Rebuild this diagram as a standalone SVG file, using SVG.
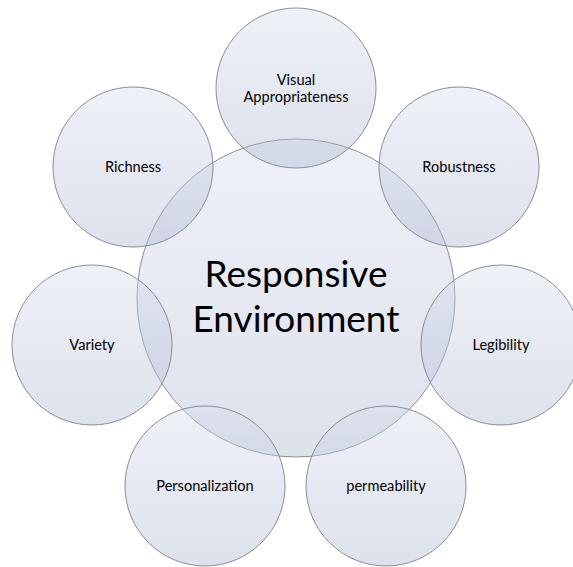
<svg xmlns="http://www.w3.org/2000/svg" width="573" height="567" viewBox="0 0 573 567">
  <defs>
    <linearGradient id="bubbleFill" x1="0" y1="0" x2="0" y2="1">
      <stop offset="0" stop-color="#d6dcec"/>
      <stop offset="1" stop-color="#aab5d0"/>
    </linearGradient>
    <style>
      .bubble { fill: url(#bubbleFill); fill-opacity: 0.4; stroke: #8a8d94; stroke-width: 1; }
      .label { font-family: "Lato", "Noto Sans", "Liberation Sans", sans-serif; font-size: 14.6px; fill: #000; text-anchor: middle; }
      .title { font-family: "Lato", "Noto Sans", "Liberation Sans", sans-serif; font-size: 37px; fill: #000; text-anchor: middle; }
    </style>
  </defs>
  <rect width="573" height="567" fill="#ffffff"/>

  <!-- central hub -->
  <g id="hub">
    <circle class="bubble" cx="296" cy="298" r="159"/>
    <text class="title" x="296" y="287">Responsive</text>
    <text class="title" x="296" y="332">Environment</text>
  </g>

  <!-- surrounding qualities, spaced 360/7 degrees apart -->
  <g id="visual-appropriateness">
    <circle class="bubble" cx="296" cy="88" r="80"/>
    <text class="label" x="296" y="85">Visual</text>
    <text class="label" x="296" y="102">Appropriateness</text>
  </g>
  <g id="robustness">
    <circle class="bubble" cx="459" cy="167" r="80"/>
    <text class="label" x="459" y="172">Robustness</text>
  </g>
  <g id="legibility">
    <circle class="bubble" cx="501" cy="345" r="80"/>
    <text class="label" x="501" y="350">Legibility</text>
  </g>
  <g id="permeability">
    <circle class="bubble" cx="386" cy="486" r="80"/>
    <text class="label" x="386" y="491">permeability</text>
  </g>
  <g id="personalization">
    <circle class="bubble" cx="205" cy="486" r="80"/>
    <text class="label" x="205" y="491">Personalization</text>
  </g>
  <g id="variety">
    <circle class="bubble" cx="92" cy="345" r="80"/>
    <text class="label" x="92" y="350">Variety</text>
  </g>
  <g id="richness">
    <circle class="bubble" cx="133" cy="167" r="80"/>
    <text class="label" x="133" y="172">Richness</text>
  </g>

  <g id="connectors"/>
</svg>
